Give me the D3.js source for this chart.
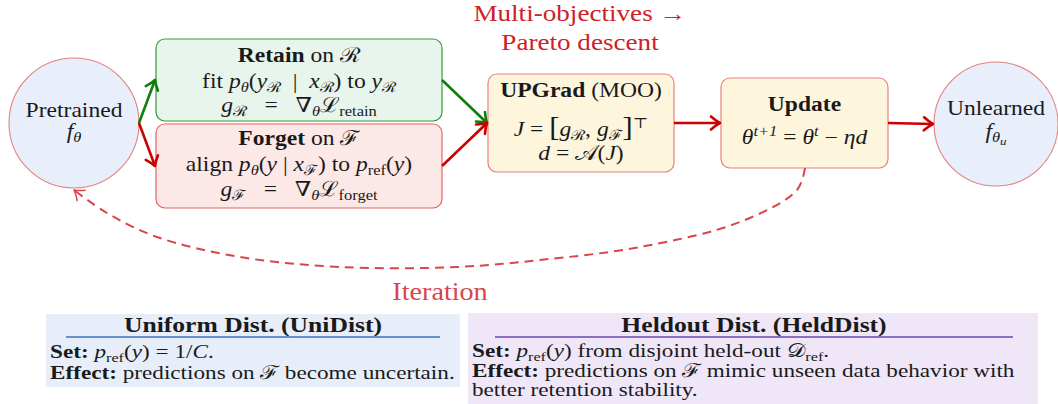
<!DOCTYPE html>
<html lang="en">
<head>
<meta charset="UTF-8">
<title>UPGrad unlearning pipeline</title>
<script src="https://d3js.org/d3.v7.min.js"></script>
<style>
    body { margin: 0; background: #fff; }
    svg text { font-family: "Liberation Serif", "DejaVu Serif", serif; white-space: pre; }
</style>
</head>
<body>
<svg id="canvas" width="1058" height="404"></svg>
<script>
// nodes of the flow (circles and rounded boxes)
const nodes = [
    {id: "pre",    shape: "circle", cx: 74,  cy: 123, r: 65, fill: "#e8eefa", stroke: "#e58080"},
    {id: "retain", shape: "box", x: 156, y: 39,  w: 286, h: 82, fill: "#e8f5ec", stroke: "#3b983b"},
    {id: "forget", shape: "box", x: 156, y: 124, w: 286, h: 84, fill: "#fde8e8", stroke: "#e06666"},
    {id: "upgrad", shape: "box", x: 488, y: 74,  w: 186, h: 98, fill: "#fdf5dc", stroke: "#e98080"},
    {id: "update", shape: "box", x: 721, y: 78,  w: 167, h: 90, fill: "#fdf5dc", stroke: "#e98080"},
    {id: "unl",    shape: "circle", cx: 996, cy: 124, r: 62, fill: "#e8eefa", stroke: "#e58080"}
];

// arrows: from node anchor to node anchor
const edges = [
    {from: "pre", fa: "e", to: "retain", ta: "w", color: "green"},
    {from: "pre", fa: "e", to: "forget", ta: "w", color: "red"},
    {from: "retain", fa: "e", to: "upgrad", ta: "w", color: "green"},
    {from: "forget", fa: "e", to: "upgrad", ta: "w", color: "red"},
    {from: "upgrad", fa: "e", to: "update", ta: "w", color: "red"},
    {from: "update", fa: "e", to: "unl", ta: "w", color: "red"}
];

// path of the dashed "Iteration" loop, update.south -> pre.south
const loopPath = [[805,168],[797,190],[740,222],[640,247],[540,260],[457,267],[340,267],[240,257],[157,237],[107,213],[74,190]];

// text lines: [segment text, style]  b=bold i=italic _=sub ^=sup L=large
const nodeText = {
    pre: [[["Pretrained"]], [["f","i"],["θ","i_"]]],
    retain: [
        [["Retain","b"],[" on "],["ℛ"]],
        [["fit "],["p","i"],["θ","i_"],["("],["y","i"],["ℛ","_"],["  |  "],["x","i"],["ℛ","_"],[") to "],["y","i"],["ℛ","_"]],
        [["g","i"],["ℛ","_"],["   =   "],["∇"],["θ","i_"],["ℒ"],["retain","_"]]
    ],
    forget: [
        [["Forget","b"],[" on "],["ℱ"]],
        [["align "],["p","i"],["θ","i_"],["("],["y","i"],[" | "],["x","i"],["ℱ","_"],[") to "],["p","i"],["ref","_"],["("],["y","i"],[")"]],
        [["g","i"],["ℱ","_"],["   =   "],["∇"],["θ","i_"],["ℒ"],["forget","_"]]
    ],
    upgrad: [
        [["UPGrad","b"],[" (MOO)"]],
        [["J","i"],[" = "],["[","L"],["g","i"],["ℛ","_"],[", "],["g","i"],["ℱ","_"],["]","L"],["⊤","^"]],
        [["d","i"],[" = "],["𝒜"],["("],["J","i"],[")"]]
    ],
    update: [
        [["Update","b"]],
        [["θ","i"],["t+1","i^"],[" = "],["θ","i"],["t","i^"],[" − "],["η","i"],["d","i"]]
    ],
    unl: [[["Unlearned"]], [["f","i"],["θ","i_"],["u","i__"]]]
};
const nodeBaselines = {
    pre: [117, 138], retain: [62, 88, 112], forget: [145, 171, 196],
    upgrad: [97, 136, 160], update: [111, 144], unl: [115, 138]
};

const titleLines = ["Multi-objectives →", "Pareto descent"];
const loopLabel = "Iteration";

const panels = [
    {x: 46, y: 314, w: 414, h: 73, fill: "#e7eef9", rule: "#3a72bd", ruleX: [66, 440],
     title: "Uniform Dist. (UniDist)",
     lines: [
        [["Set:","b"],[" "],["p","i"],["ref","_"],["("],["y","i"],[") = 1/"],["C","i"],["."]],
        [["Effect:","b"],[" predictions on "],["ℱ"],[" become uncertain."]]
     ], baselines: [358, 379]},
    {x: 468, y: 313, w: 570, h: 91, fill: "#efe6f8", rule: "#6a46b0", ruleX: [495, 1013],
     title: "Heldout Dist. (HeldDist)",
     lines: [
        [["Set:","b"],[" "],["p","i"],["ref","_"],["("],["y","i"],[") from disjoint held-out "],["𝒟"],["ref","_"],["."]],
        [["Effect:","b"],[" predictions on "],["ℱ"],[" mimic unseen data behavior with"]],
        [["better retention stability."]]
     ], baselines: [357, 377, 396]}
];

const colors = {green: "#0e7e0e", red: "#cc0000", loop: "#db4448", ink: "#1a1a1a", title: "#cf2027"};
const FS = 20.5, SX = 1.15;

const svg = d3.select("#canvas");

// arrow heads
const defs = svg.append("defs");
function head(id, color, w) {
    defs.append("marker").attr("id", id)
        .attr("markerUnits", "userSpaceOnUse")
        .attr("viewBox", "-12 -8 14 16").attr("markerWidth", 14).attr("markerHeight", 16)
        .attr("refX", 0).attr("refY", 0).attr("orient", "auto")
        .append("path").attr("d", "M-9,-6.5 Q-4,-2 0,0 Q-4,2 -9,6.5")
        .attr("fill", "none").attr("stroke", color).attr("stroke-width", w)
        .attr("stroke-linecap", "round").attr("stroke-linejoin", "round");
}
head("h-green", colors.green, 2.6);
head("h-red", colors.red, 2.6);
head("h-loop", colors.loop, 1.5);

// rich text: segments rendered as tspans, stretched horizontally
function rich(parent, x, y, segs, o) {
    o = o || {};
    const size = o.size || FS;
    const g = parent.append("g").attr("transform", `translate(${x},${y}) scale(${o.sx || SX},1)`);
    const t = g.append("text").attr("text-anchor", o.anchor || "middle")
        .attr("font-size", size).attr("fill", o.color || colors.ink);
    let shift = 0;
    segs.forEach(s => {
        const txt = s[0], st = s[1] || "";
        const nsub = (st.match(/_/g) || []).length;
        const sup = st.includes("^");
        const target = nsub ? size * (0.08 + 0.12 * nsub) : sup ? -size * 0.4 : 0;
        const ts = t.append("tspan").text(txt).attr("dy", target - shift);
        shift = target;
        if (st.includes("b")) ts.attr("font-weight", "bold");
        if (st.includes("i")) ts.attr("font-style", "italic");
        if (nsub || sup) ts.attr("font-size", size * (nsub > 1 ? 0.55 : 0.7));
        if (st.includes("L")) ts.attr("font-size", size * 1.3);
    });
    return t;
}

// anchors on nodes
const byId = new Map(nodes.map(n => [n.id, n]));
function anchor(n, a) {
    if (n.shape === "circle") {
        return {e: [n.cx + n.r, n.cy], w: [n.cx - n.r, n.cy], s: [n.cx, n.cy + n.r]}[a];
    }
    return {e: [n.x + n.w, n.y + n.h / 2], w: [n.x, n.y + n.h / 2], s: [n.x + n.w / 2, n.y + n.h]}[a];
}

// title
titleLines.forEach((line, i) => {
    rich(svg, 580, 21 + i * 29, [[line]], {size: 23, color: colors.title, sx: 1.18});
});

// nodes
const gNodes = svg.append("g");
nodes.forEach(n => {
    if (n.shape === "circle") {
        gNodes.append("circle").attr("cx", n.cx).attr("cy", n.cy).attr("r", n.r)
            .attr("fill", n.fill).attr("stroke", n.stroke).attr("stroke-width", 1.1);
    } else {
        gNodes.append("rect").attr("x", n.x).attr("y", n.y).attr("width", n.w).attr("height", n.h)
            .attr("rx", 9).attr("fill", n.fill).attr("stroke", n.stroke).attr("stroke-width", 1.2);
    }
    const cx = n.shape === "circle" ? n.cx : n.x + n.w / 2;
    nodeText[n.id].forEach((segs, i) => rich(gNodes, cx, nodeBaselines[n.id][i], segs));
});

// solid arrows
const gEdges = svg.append("g");
edges.forEach(e => {
    const p0 = anchor(byId.get(e.from), e.fa), p1 = anchor(byId.get(e.to), e.ta);
    gEdges.append("line")
        .attr("x1", p0[0]).attr("y1", p0[1]).attr("x2", p1[0] - 1).attr("y2", p1[1])
        .attr("stroke", colors[e.color]).attr("stroke-width", 2.6)
        .attr("marker-end", `url(#h-${e.color})`);
});

// dashed iteration loop
const loopLine = d3.line().curve(d3.curveCatmullRom.alpha(0.5));
svg.append("path").attr("d", loopLine(loopPath))
    .attr("fill", "none").attr("stroke", colors.loop).attr("stroke-width", 2)
    .attr("stroke-dasharray", "9,6").attr("marker-end", "url(#h-loop)");
rich(svg, 440, 300, [[loopLabel]], {size: 24.5, color: colors.loop, sx: 1.15});

// bottom panels
panels.forEach(p => {
    svg.append("rect").attr("x", p.x).attr("y", p.y).attr("width", p.w).attr("height", p.h).attr("fill", p.fill);
    rich(svg, (p.ruleX[0] + p.ruleX[1]) / 2, 332, [[p.title, "b"]], {sx: 1.25});
    svg.append("line").attr("x1", p.ruleX[0]).attr("x2", p.ruleX[1]).attr("y1", 337).attr("y2", 337)
        .attr("stroke", p.rule).attr("stroke-width", 1.5);
    p.lines.forEach((segs, i) => rich(svg, p.x + 4, p.baselines[i], segs, {anchor: "start", size: 19, sx: 1.22}));
});
</script>
</body>
</html>
